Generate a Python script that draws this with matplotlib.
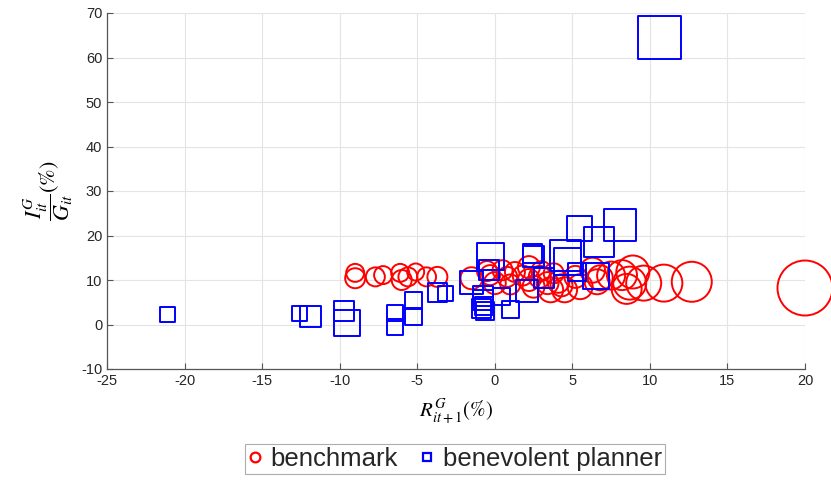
#!/usr/bin/env python3
# coding: UTF-8

import matplotlib
matplotlib.use("Agg")
import matplotlib.pyplot as plt
from matplotlib.lines import Line2D

# benchmark (circles): x = R (%), y = I/G (%), marker diameter in px
bench_x = [-9.0, -9.0, -7.7, -7.2, -6.1, -6.0, -5.6, -5.1, -4.4, -3.7,
           -1.5, -0.3, -0.5, 0.0, 0.5, 0.8, 1.0, 1.3, 1.8, 2.2, 2.2, 2.5,
           2.9, 3.0, 3.4, 3.6, 3.8, 4.1, 4.3, 4.5, 5.2, 5.5, 6.3, 6.6,
           6.8, 7.5, 8.2, 8.5, 8.7, 8.9, 9.6, 10.9, 12.7, 20.0]
bench_y = [11.6, 10.4, 10.7, 11.1, 11.6, 10.0, 10.7, 11.8, 10.7, 10.7,
           10.4, 11.1, 12.0, 9.3, 12.2, 10.7, 9.0, 11.8, 11.0, 12.9, 10.0, 8.5,
           10.7, 12.0, 9.3, 7.8, 11.5, 9.6, 8.8, 7.8, 10.7, 8.5, 12.2, 9.6,
           10.5, 11.0, 11.1, 8.0, 9.3, 11.8, 9.3, 9.3, 9.6, 8.2]
bench_d = [18, 20, 19, 18, 18, 20, 19, 17, 19, 20,
           22, 20, 20, 22, 20, 20, 20, 20, 20, 22, 22, 22,
           22, 20, 22, 25, 20, 22, 22, 25, 22, 25, 25, 25,
           25, 28, 30, 30, 33, 33, 35, 37, 40, 55]

# benevolent planner (squares)
plan_x = [-21.1, -12.6, -11.9, -9.7, -9.5, -6.45, -6.45, -5.25, -5.25, -3.7,
          -3.2, -1.5, -0.3, -0.35, -0.76, -0.74, -0.85, -0.7, -0.6, 0.44,
          1.0, 2.06, 2.5, 2.4, 3.2, 4.57, 4.7, 5.3, 6.5, 5.45, 6.7, 8.07, 10.6]
plan_y = [2.3, 2.4, 1.9, 3.1, 0.3, 2.5, -0.6, 5.3, 1.8, 7.2,
          7.0, 9.4, 15.2, 12.2, 6.4, 5.5, 3.6, 4.2, 3.0, 6.2,
          3.3, 7.6, 15.2, 16.0, 10.4, 15.6, 14.1, 11.9, 10.9, 21.6, 18.6, 22.4, 64.6]
plan_d = [15, 15, 21, 20, 26, 16, 16, 17, 17, 19,
          15, 23, 27, 20, 20, 20, 19, 18, 18, 17,
          17, 22, 21, 19, 20, 31, 27, 18, 26, 25, 30, 32, 43]

xticks = [-25, -20, -15, -10, -5, 0, 5, 10, 15, 20]
yticks = [-10, 0, 10, 20, 30, 40, 50, 60, 70]

dpi = 100
px2pt = 72.0 / dpi

plt.rcParams['font.family'] = ['Liberation Sans', 'DejaVu Sans']
plt.rcParams['mathtext.fontset'] = 'stix'
plt.rcParams['axes.unicode_minus'] = False

fig = plt.figure(figsize=(8.31, 4.8), dpi=dpi)
ax = fig.add_axes([107 / 831, 1 - 369 / 480, 698 / 831, 356 / 480])

ax.scatter(bench_x, bench_y, s=[(d * px2pt) ** 2 for d in bench_d], marker='o',
           facecolors='none', edgecolors='#ff0000', linewidths=1.4, clip_on=False, zorder=3)
ax.scatter(plan_x, plan_y, s=[(d * px2pt) ** 2 for d in plan_d], marker='s',
           facecolors='none', edgecolors='#0000ff', linewidths=1.4, clip_on=False, zorder=3)

ax.set_xlim(-25, 20)
ax.set_ylim(-10, 70)
ax.set_xticks(xticks)
ax.set_yticks(yticks)
ax.grid(True, color='#e4e4e4', linewidth=0.8)
ax.set_axisbelow(True)
for side in ['top', 'right']:
    ax.spines[side].set_visible(False)
for side in ['left', 'bottom']:
    ax.spines[side].set_color('#555555')
    ax.spines[side].set_linewidth(0.9)
ax.tick_params(direction='in', length=4, width=0.8, color='#555555',
               labelsize=10.5, labelcolor='#262626')

ax.set_xlabel(r'$R^{G}_{it+1}(\%)$', fontsize=15, labelpad=7)
ax.set_ylabel(r'$\dfrac{I^{G}_{it}}{G_{it}}(\%)$', fontsize=16, labelpad=4)

handles = [
    Line2D([], [], linestyle='none', marker='o', markersize=7, markerfacecolor='none',
           markeredgecolor='#ff0000', markeredgewidth=1.6, label='benchmark'),
    Line2D([], [], linestyle='none', marker='s', markersize=6, markerfacecolor='none',
           markeredgecolor='#0000ff', markeredgewidth=1.6, label='benevolent planner'),
]
leg = fig.legend(handles=handles, loc='upper center', bbox_to_anchor=(455 / 831, 1 - 444 / 480),
                 ncol=2, fontsize=18.5, frameon=True, fancybox=False, handlelength=0.5,
                 handletextpad=0.35, columnspacing=0.9, borderpad=0.12, borderaxespad=0)
leg.get_frame().set_edgecolor('#999999')
leg.get_frame().set_linewidth(0.8)
for t in leg.get_texts():
    t.set_color('#262626')

fig.savefig('out.png', dpi=dpi)
